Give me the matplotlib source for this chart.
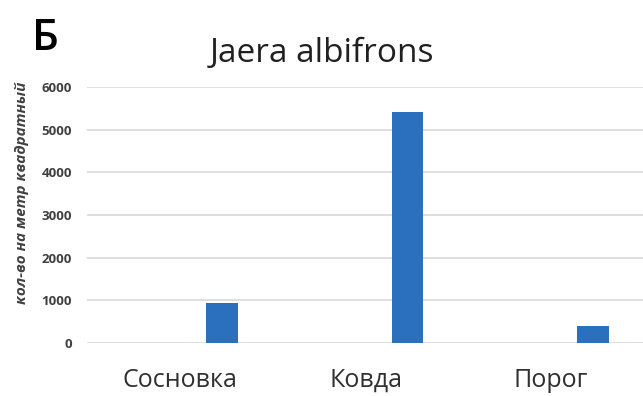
import matplotlib
matplotlib.use("Agg")
import matplotlib.pyplot as plt
import numpy as np

plt.rcParams['font.family'] = ['Open Sans', 'DejaVu Sans']

categories = ["Сосновка", "Ковда", "Порог"]
values = [930, 5420, 400]
yticks = [0, 1000, 2000, 3000, 4000, 5000, 6000]

fig = plt.figure(figsize=(6.43, 3.96), dpi=100)
ax = fig.add_axes([0.1355, 0.134, 0.866, 0.646])

x = np.arange(len(categories))
ax.bar(x + 0.226, values, width=0.172, color="#2a70bf", zorder=3)

ax.set_xlim(-0.5, 2.5)
ax.set_ylim(0, 6000)
ax.set_yticks(yticks)
ax.set_yticklabels([str(t) for t in yticks], fontsize=9.5, fontweight='bold', color='#404040')
ax.set_xticks(x)
ax.set_xticklabels(categories, fontsize=18, color='#303030')
ax.tick_params(axis='both', length=0)
ax.tick_params(axis='y', pad=11)
ax.tick_params(axis='x', pad=18)
ax.grid(axis='y', color='#d9d9d9', linewidth=1.2, zorder=0)
for s in ax.spines.values():
    s.set_visible(False)

fig.text(0.5, 1 - 62 / 396, "Jaera albifrons", ha='center', va='baseline', fontsize=24, color='#202020')
fig.text(0.05, 1 - 50 / 396, "Б", ha='left', va='baseline', fontsize=31, fontweight='semibold', color='#000000')
fig.text(22 / 643, 1 - 193 / 396, "кол-во на метр квадратный", rotation=90, ha='center', va='center',
         fontsize=11, fontstyle='italic', fontweight='bold', color='#404040')

fig.savefig("out.png", dpi=100)
